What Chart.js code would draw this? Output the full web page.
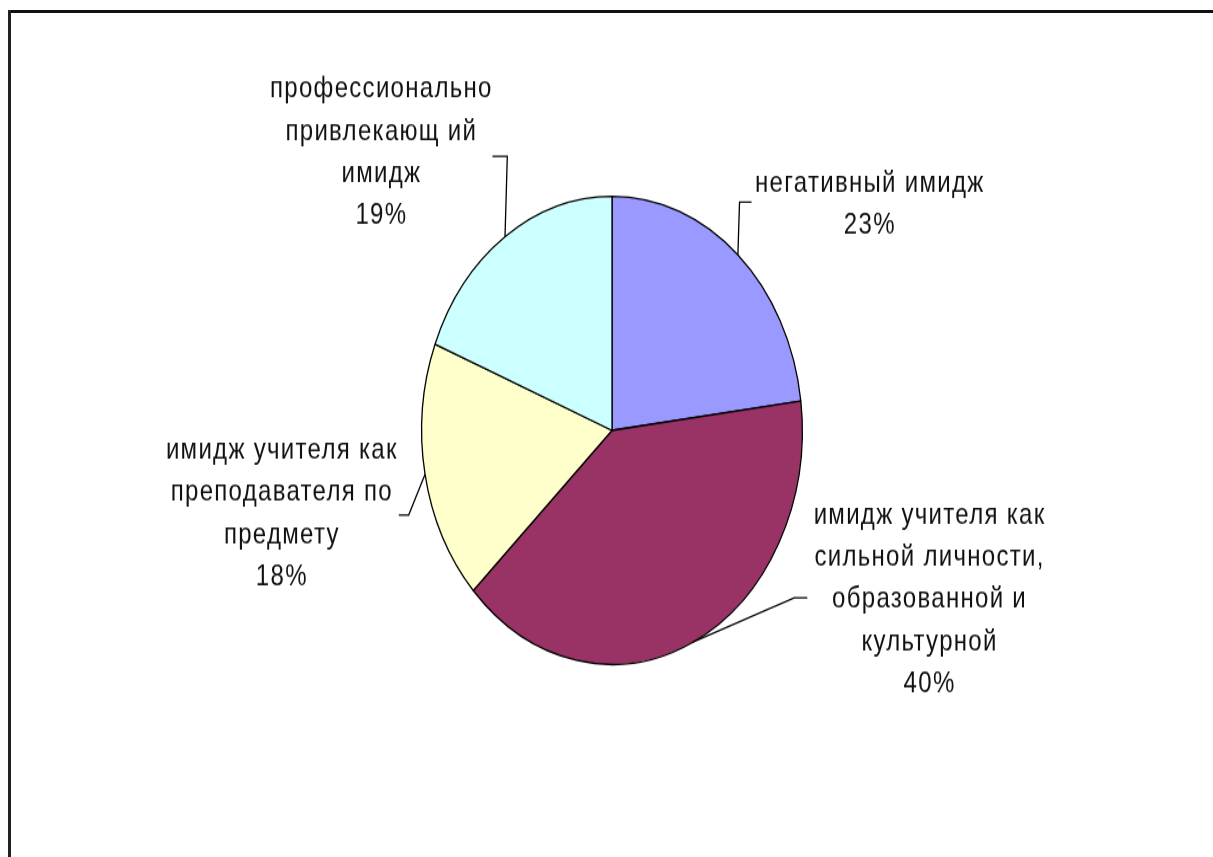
<!DOCTYPE html>
<html>
<head>
<meta charset="utf-8">
<script src="https://cdn.jsdelivr.net/npm/chart.js@4/dist/chart.umd.min.js"></script>
<style>
  html, body { margin: 0; padding: 0; background: #fff; overflow: hidden; width: 1213px; height: 857px; }
  #hline { position: absolute; left: 8px; top: 10px; width: 1205px; height: 3px; background: #111; }
  #vline { position: absolute; left: 8px; top: 10px; width: 3px; height: 847px; background: #222; }
  #wrap { position: absolute; left: 0; top: 0; width: 1213px; height: 697px;
          transform-origin: 0 0; transform: scaleY(1.2296); }
</style>
</head>
<body>
<div id="hline"></div>
<div id="vline"></div>
<div id="wrap"><canvas id="c" width="1213" height="697"></canvas></div>
<script>
// ---- data ----
const categories = [
  ["негативный имидж"],
  ["имидж учителя как", "сильной личности,", "образованной и", "культурной"],
  ["имидж учителя как", "преподавателя по", "предмету"],
  ["профессионально", "привлекающ ий", "имидж"]
];
const values = [23, 40, 18, 19];
const colors = ["#9999FF", "#993366", "#FFFFCC", "#CCFFFF"];

// label placement (in units of pie radius, relative to pie centre)
const labelPos = [
  { tx: 1.351, ty: -1.056, ex: 0.670, ey: -0.975, hx: 0.733 },
  { tx: 1.665, ty: 0.363,  ex: 0.958, ey: 0.715,  hx: 1.026 },
  { tx: -1.738, ty: 0.086, ex: -1.068, ey: 0.362, hx: -1.120 },
  { tx: -1.215, ty: -1.456, ex: -0.55, ey: -1.171, hx: -0.628 }
];

const labelPlugin = {
  id: 'pieLabels',
  afterDraw(chart) {
    const ctx = chart.ctx;
    const meta = chart.getDatasetMeta(0);
    const total = values.reduce((a, b) => a + b, 0);
    ctx.save();
    ctx.font = '24px "Liberation Sans", Arial, sans-serif';
    ctx.letterSpacing = '1.3px';
    ctx.fillStyle = '#111';
    ctx.textAlign = 'center';
    ctx.textBaseline = 'middle';
    ctx.strokeStyle = '#000';
    ctx.lineWidth = 1.3;
    meta.data.forEach((arc, i) => {
      const cx = arc.x, cy = arc.y, r = arc.outerRadius;
      const mid = (arc.startAngle + arc.endAngle) / 2;
      const p = labelPos[i];
      // leader line
      ctx.beginPath();
      ctx.moveTo(cx + r * Math.cos(mid), cy + r * Math.sin(mid));
      ctx.lineTo(cx + p.ex * r, cy + p.ey * r);
      ctx.lineTo(cx + p.hx * r, cy + p.ey * r);
      ctx.stroke();
      // text
      const lines = categories[i].concat([Math.round(values[i] / total * 100) + '%']);
      const lh = 34.3;
      lines.forEach((t, k) => {
        ctx.fillText(t, cx + p.tx * r + 0.65, cy + p.ty * r + k * lh);
      });
    });
    ctx.restore();
  }
};

new Chart(document.getElementById('c'), {
  type: 'pie',
  data: {
    labels: categories.map(c => c.join(' ')),
    datasets: [{
      data: values,
      backgroundColor: colors,
      borderColor: '#000',
      borderWidth: 1.3
    }]
  },
  options: {
    responsive: false,
    animation: false,
    devicePixelRatio: 1,
    layout: { padding: { left: 421, right: 410, top: 159, bottom: 156 } },
    plugins: { legend: { display: false }, tooltip: { enabled: false } }
  },
  plugins: [labelPlugin]
});
</script>
</body>
</html>
